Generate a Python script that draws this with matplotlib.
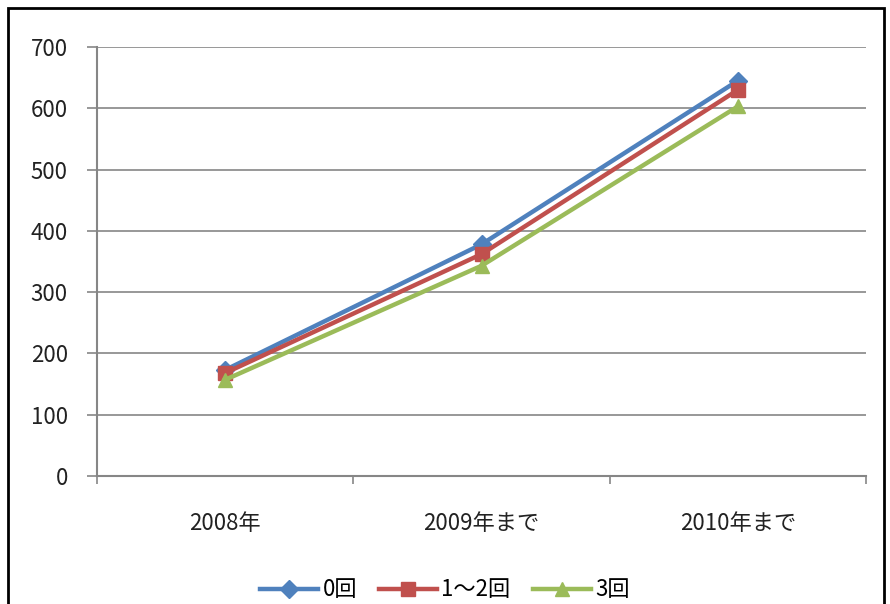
import numpy as np
import matplotlib.pyplot as plt
from matplotlib.patches import Rectangle

plt.rcParams['font.family'] = ['Noto Sans CJK JP', 'DejaVu Sans']

# data
categories = ['2008年', '2009年まで', '2010年まで']
series_names = ['0回', '1～2回', '3回']
vals_0 = [173, 378, 645]
vals_12 = [168, 362, 630]
vals_3 = [157, 343, 603]

colors = ['#4F81BD', '#C0504D', '#9BBB59']
markers = ['D', 's', '^']

fig = plt.figure(figsize=(8.9, 6.04), dpi=100)
ax = fig.add_axes([97 / 890, 128 / 604, 769 / 890, 429 / 604])

x = np.arange(len(categories))
for vals, name, c, m in zip([vals_0, vals_12, vals_3], series_names, colors, markers):
    ax.plot(x, vals, color=c, lw=3.2, marker=m, markersize=10 if m != 'D' else 9,
            label=name)

ax.set_xlim(-0.5, 2.5)
ax.set_ylim(0, 700)
ax.set_yticks(range(0, 701, 100))
ax.set_xticks(x)
ax.set_xticklabels(categories)
ax.set_xticks([-0.5, 0.5, 1.5, 2.5], minor=True)
ax.tick_params(axis='x', which='major', length=0, pad=26, labelsize=16, colors='#222222')
ax.tick_params(axis='x', which='minor', length=6, color='#868686', width=1.2)
ax.tick_params(axis='y', length=7, color='#868686', width=1.2, labelsize=16,
               labelcolor='#222222', pad=14)

ax.grid(axis='y', color='#868686', lw=1.2)
ax.set_axisbelow(True)
for side in ['top', 'right']:
    ax.spines[side].set_visible(False)
for side in ['left', 'bottom']:
    ax.spines[side].set_color('#868686')
    ax.spines[side].set_linewidth(1.5)

leg = fig.legend(loc='center', bbox_to_anchor=(0.5, 14 / 604), ncol=3, frameon=False,
                 fontsize=16, handlelength=2.6, columnspacing=1.0, handletextpad=0.2)

# outer chart border
fig.add_artist(Rectangle((8 / 890, -0.05), 876 / 890, 1.05 - 8 / 604,
                         transform=fig.transFigure, fill=False, edgecolor='black', lw=2))

fig.savefig('out.png', dpi=100)
